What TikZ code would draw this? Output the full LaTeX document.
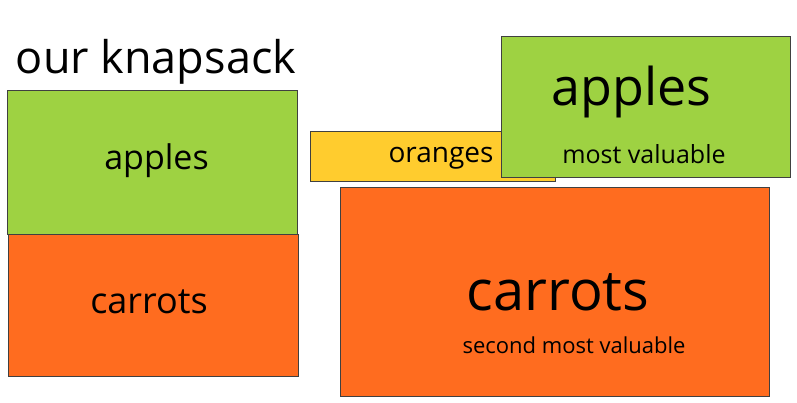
\documentclass[tikz,border=0pt]{standalone}
\usepackage{fontspec}
\setmainfont{Open Sans}
\usepackage{tikz}
\usetikzlibrary{positioning}
\definecolor{applegreen}{RGB}{158,210,66}
\definecolor{carrotorange}{RGB}{255,108,31}
\definecolor{orangeyellow}{RGB}{255,204,46}
\tikzset{
  item/.style={draw=black!75, line width=0.8pt, minimum width=#1, inner sep=0pt},
  lbl/.style={anchor=base, inner sep=0pt, font=\fontsize{#1}{#1}\selectfont}
}

\begin{document}
\begin{tikzpicture}[x=1pt,y=-1pt]
        \useasboundingbox (0,0) rectangle (797,402);
        % Title
        \node[lbl=45] (title) at (156,73) {our knapsack};
        % Knapsack contents
        \node[item=290, minimum height=144, fill=applegreen] (kapples) at (152,162) {};
        \node[item=290, minimum height=142, fill=carrotorange] (kcarrots) at (153,305) {};
        \node[lbl=34] (kapplestxt) at (156.5,169) {apples};
        \node[lbl=36] (kcarrotstxt) at (149,313) {carrots};
        % Items to choose from
        \node[item=245, minimum height=50, fill=orangeyellow] (oranges) at (432.5,156) {};
        \node[lbl=28] (orangestxt) at (441,162) {oranges};
        \node[item=289, minimum height=141, fill=applegreen] (apples) at (645.5,106.5) {};
        \node[lbl=52] (applestxt) at (631.5,105) {apples};
        \node[lbl=25] (applesnote) at (644,163) {most valuable};
        \node[item=429, minimum height=209, fill=carrotorange] (carrots) at (554.5,291.5) {};
        \node[lbl=56] (carrotstxt) at (558,310) {carrots};
        \node[lbl=22] (carrotsnote) at (574,353) {second most valuable};
      \end{tikzpicture}
\end{document}
